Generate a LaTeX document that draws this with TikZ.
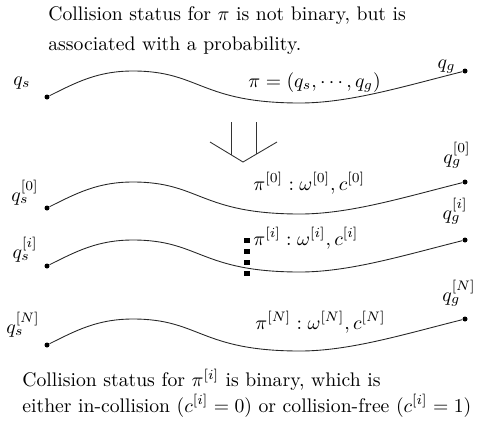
\documentclass[tikz,border=0pt]{standalone}
\usepackage{tikz}
\usetikzlibrary{positioning}

\begin{document}
\begin{tikzpicture}[x=0.02cm,y=-0.02cm,
        dot/.style={circle,fill=black,inner sep=0pt,minimum size=0.1cm},
        curve/.style={line width=0.5pt,black!85},
        txt/.style={anchor=north west,align=left,inner sep=0pt,scale=1.12},
        lbl/.style={inner sep=0pt,scale=1.12}]
      \useasboundingbox (0,0) rectangle (490,420);
      \node[txt](head) at (48,6){Collision status for $\pi$ is not binary, but is\\[3.2pt]
                                 associated with a probability.};
      \node[txt](foot) at (22,369){Collision status for $\pi^{[i]}$ is binary, which is\\[0.8pt]
                                   either in-collision ($c^{[i]}=0$) or collision-free ($c^{[i]}=1$)};
      % paths: start dot, end dot, curve between them
      \foreach \n/\y in {t/97,z/208,i/266,N/345}{
        \begin{scope}[shift={(0,\y)}]
          \node[dot](s\n) at (47,0){};
          \node[dot](g\n) at (465,-26){};
          \draw[curve](s\n) .. controls (77,-15) and (98,-26) .. (133,-26)
                            .. controls (200,-26) and (200,6) .. (300,6)
                            .. controls (350,6) and (405,-11) .. (g\n);
        \end{scope}
      }
      \node[lbl,anchor=base east](qst) at (31,85){$q_s$};
      \node[lbl,anchor=base east](qgt) at (456,68){$q_g$};
      \node[lbl,anchor=base west](pit) at (248,87){$\pi=(q_s,\cdots,q_g)$};
      \node[lbl,anchor=base east](qsz) at (39,201){$q_s^{[0]}$};
      \node[lbl,anchor=base east](qgz) at (471,163){$q_g^{[0]}$};
      \node[lbl,anchor=base west](piz) at (253,190){$\pi^{[0]}:\omega^{[0]},c^{[0]}$};
      \node[lbl,anchor=base east](qsi) at (38,258){$q_s^{[i]}$};
      \node[lbl,anchor=base east](qgi) at (468,219){$q_g^{[i]}$};
      \node[lbl,anchor=base west](pii) at (253,245){$\pi^{[i]}:\omega^{[i]},c^{[i]}$};
      \node[lbl,anchor=base east](qsN) at (40,333){$q_s^{[N]}$};
      \node[lbl,anchor=base east](qgN) at (476,301){$q_g^{[N]}$};
      \node[lbl,anchor=base west](piN) at (255,329){$\pi^{[N]}:\omega^{[N]},c^{[N]}$};
      % vertical dots
      \foreach \k in {0,...,3}
        \fill (244,238+11*\k) rectangle (250,243+11*\k);
      % big down arrow
      \draw[black!80,line width=0.5pt](231,122)--(231,154.7);
      \draw[black!80,line width=0.5pt](256.7,122)--(256.7,153.9);
      \draw[black!80,line width=0.5pt](210,142)--(243,162)--(277,142);
    \end{tikzpicture}
\end{document}
